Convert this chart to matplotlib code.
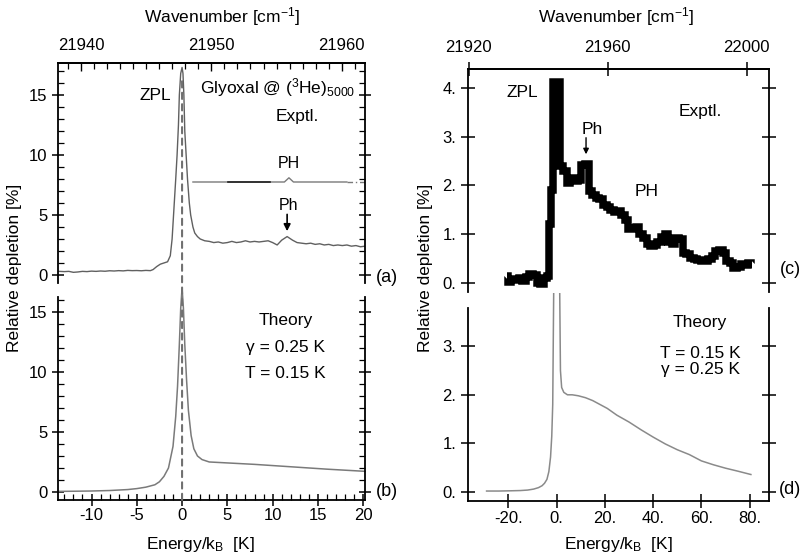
import numpy as np
import matplotlib
matplotlib.use("Agg")
import matplotlib.pyplot as plt
from matplotlib.ticker import MultipleLocator, FuncFormatter
from matplotlib.patches import ConnectionPatch, Rectangle

plt.rcParams['font.family'] = ['Liberation Sans', 'DejaVu Sans']
plt.rcParams['font.size'] = 12
plt.rcParams['mathtext.fontset'] = 'custom'
plt.rcParams['mathtext.rm'] = 'Liberation Sans'
plt.rcParams['mathtext.it'] = 'Liberation Sans:italic'
plt.rcParams['axes.unicode_minus'] = False

# ---------------- data ----------------
# (a) measured depletion spectrum, energy in K relative to the ZPL
a_E = [-13.6, -13.0, -12.5, -12.0, -11.5, -11.0, -10.5, -10.0, -9.5, -9.0, -8.5,
       -8.0, -7.5, -7.0, -6.5, -6.0, -5.5, -5.0, -4.5, -4.0, -3.5, -3.2, -2.8,
       -2.4, -2.0, -1.6, -1.3, -1.1, -0.9, -0.7, -0.55, -0.4, -0.3, -0.15, 0.0,
       0.1, 0.2, 0.3, 0.45, 0.6, 0.8, 0.95, 1.2, 1.4, 1.7, 2.0, 2.5, 3.0, 3.5,
       4.0, 4.5, 5.0, 5.5, 6.0, 6.5, 7.0, 7.5, 8.0, 8.5, 9.0, 9.5, 10.0, 10.5,
       11.0, 11.6, 12.2, 12.7, 13.2, 13.7, 14.2, 14.7, 15.2, 15.7, 16.2, 16.7,
       17.2, 17.7, 18.2, 18.7, 19.2, 19.7, 20.2]
a_val = [0.30, 0.28, 0.30, 0.22, 0.25, 0.30, 0.28, 0.32, 0.30, 0.33, 0.31,
         0.35, 0.33, 0.36, 0.34, 0.38, 0.36, 0.37, 0.35, 0.38, 0.36, 0.45, 0.70,
         0.90, 1.00, 1.10, 1.60, 3.0, 5.5, 8.0, 10.0, 12.5, 15.0, 16.8, 17.3,
         16.8, 15.0, 12.0, 10.0, 8.0, 6.0, 5.0, 4.0, 3.5, 3.2, 3.0, 2.85, 2.8, 2.7,
         2.75, 2.65, 2.7, 2.8, 2.7, 2.75, 2.85, 2.75, 2.8, 2.75, 2.8, 2.85, 2.7, 2.5,
         2.9, 3.2, 2.9, 2.7, 2.65, 2.6, 2.65, 2.55, 2.6, 2.5, 2.55, 2.45,
         2.5, 2.45, 2.5, 2.4, 2.45, 2.35, 2.4]

# (a) phonon-wing trace drawn above the spectrum
ph_E = [1.2, 11.3, 11.8, 12.3, 18.2]
ph_val = [7.75, 7.75, 8.1, 7.75, 7.75]
ph_dark_E = [5.1, 9.7]
ph_tail_E = [18.2, 20.4]
ph_level = 7.75

# (b) theory, gamma = 0.25 K, T = 0.15 K
b_E = [-13.7, -12, -10, -8, -6, -5, -4, -3, -2.5, -2, -1.5, -1.0, -0.7, -0.5,
       -0.3, -0.15, 0.0, 0.15, 0.3, 0.5, 0.7, 1.0, 1.3, 1.7, 2.2, 3.0, 5.0, 8.0,
       10.0, 13.0, 16.0, 20.2]
b_val = [0.05, 0.06, 0.08, 0.12, 0.2, 0.28, 0.4, 0.6, 0.85, 1.3, 2.0, 3.8, 6.3,
         8.8, 12.3, 15.3, 17.0, 15.3, 12.3, 9.3, 6.8, 4.7, 3.6, 3.0, 2.7, 2.5,
         2.42, 2.3, 2.2, 2.05, 1.9, 1.72]

# (c) measured spectrum, wide range
c_E = [-20.5, -19.5, -18.0, -16.5, -15.0, -13.5, -12.0, -10.5, -9.0, -7.5, -6.0,
       -4.5, -3.5, -2.7, -2.0, -1.0, 0.5, 2.0, 3.5, 5.0, 6.5, 8.0, 9.5, 11.0,
       12.5, 14.0, 15.5, 17.0, 18.5, 20.0, 21.5, 23.0, 24.5, 26.0, 27.5, 29.0,
       30.5, 32.0, 33.5, 35.0, 36.5, 38.0, 39.5, 41.0, 42.5, 44.0, 45.5, 47.0,
       48.5, 50.0, 51.5, 53.0, 54.5, 56.0, 57.5, 59.0, 60.5, 62.0, 63.5, 65.0,
       66.5, 68.0, 69.5, 71.0, 72.5, 74.0, 75.5, 77.0, 78.5, 80.0, 81.0]
c_val = [0.15, 0.02, 0.06, 0.08, 0.10, 0.05, 0.12, 0.18, 0.16, 0.00, -0.03,
         0.10, 0.14, 1.2, 1.9, 4.13, 4.13, 2.4, 2.3, 2.05, 2.15, 2.1, 2.12, 2.42,
         2.45, 1.88, 1.80, 1.75, 1.72, 1.60, 1.55, 1.50, 1.45, 1.48, 1.40, 1.30,
         1.10, 1.12, 1.15, 1.00, 0.92, 0.80, 0.75, 0.78, 0.85, 0.95, 1.00, 0.85,
         0.80, 0.92, 0.90, 0.62, 0.60, 0.52, 0.50, 0.48, 0.45, 0.46, 0.50, 0.55,
         0.65, 0.68, 0.62, 0.45, 0.40, 0.30, 0.32, 0.38, 0.36, 0.40, 0.38]

# (d) theory, wide range (ZPL runs far off scale)
d_E = [-29, -24, -19, -15, -12, -9.5, -7.5, -6, -5, -4, -3.2, -2.5, -2.0, -1.6,
       -1.2, 0.0, 1.3, 1.6, 2.1, 3.0, 4.5, 6.5, 9, 12, 15, 18, 21, 25, 30, 35,
       40, 45, 50, 55, 60, 65, 70, 75, 80.5]
d_val = [0.02, 0.02, 0.025, 0.03, 0.04, 0.06, 0.09, 0.13, 0.18, 0.26, 0.42,
         0.72, 1.15, 1.8, 4.1, 30.0, 4.1, 2.5, 2.15, 2.05, 2.0, 2.0, 1.98, 1.94,
         1.88, 1.8, 1.72, 1.58, 1.44, 1.28, 1.13, 0.99, 0.87, 0.77, 0.64, 0.56,
         0.49, 0.43, 0.36]

left_wn_ticks = [21940, 21950, 21960]
right_wn_ticks = [21920, 21960, 22000]
K_PER_CM = 1.4388
ZPL_WN_LEFT = 21947.75
ZPL_WN_RIGHT = 21945.3

# ---------------- figure ----------------
W, H = 806, 554
fig = plt.figure(figsize=(W / 100, H / 100), dpi=100)


def box(x0, y0, x1, y1):
    return [x0 / W, 1 - y1 / H, (x1 - x0) / W, (y1 - y0) / H]


ax_a = fig.add_axes(box(58, 63, 365, 283))
ax_b = fig.add_axes(box(58, 297, 365, 500))
ax_c = fig.add_axes(box(468, 69, 769, 292))
ax_d = fig.add_axes(box(468, 308, 769, 501))

GRAY = '#606060'
LGRAY = '#7a7a7a'

for ax in (ax_a, ax_b, ax_c, ax_d):
    for s in ax.spines.values():
        s.set_linewidth(1.3)
ax_a.spines['bottom'].set_visible(False)
ax_c.spines['bottom'].set_visible(False)
ax_b.spines['top'].set_visible(False)
ax_d.spines['top'].set_visible(False)

# ---- (a) ----
ax_a.plot(a_E, a_val, color=GRAY, lw=1.0)
ax_a.plot(ph_E, ph_val, color=LGRAY, lw=1.0)
ax_a.plot(ph_dark_E, [ph_level] * 2, color='#202020', lw=1.2)
ax_a.plot(ph_tail_E, [ph_level] * 2, color=LGRAY, lw=1.0, ls=(0, (4, 2, 1, 2)))
ax_a.set_xlim(-13.7, 20.2)
ax_a.set_ylim(-0.67, 17.67)
ax_a.text(-3.0, 15.0, 'ZPL', ha='center', va='center', fontsize=12.5)
ax_a.text(10.6, 15.6, 'Glyoxal @ ($^{3}$He)$_{5000}$', ha='center', va='center',
          fontsize=12.5)
ax_a.text(12.7, 13.2, 'Exptl.', ha='center', va='center', fontsize=12.5)
ax_a.text(11.8, 9.3, 'PH', ha='center', va='center', fontsize=11.5)
ax_a.text(11.8, 5.8, 'Ph', ha='center', va='center', fontsize=11.5)
ax_a.annotate('', xy=(11.6, 3.65), xytext=(11.6, 5.05),
              arrowprops=dict(arrowstyle='-|>', color='black', lw=1.2,
                              mutation_scale=10, shrinkA=0, shrinkB=0))

# ---- (b) ----
ax_b.plot(b_E, b_val, color=LGRAY, lw=1.1, clip_on=False)
ax_b.set_xlim(-13.7, 20.2)
ax_b.set_ylim(-0.67, 16.25)
ax_b.text(11.4, 14.3, 'Theory', ha='center', va='center', fontsize=12.5)
ax_b.text(11.4, 12.0, 'γ = 0.25 K', ha='center', va='center', fontsize=12.5)
ax_b.text(11.4, 9.9, 'T = 0.15 K', ha='center', va='center', fontsize=12.5)

for ax in (ax_a, ax_b):
    ax.yaxis.set_major_locator(MultipleLocator(5))
    ax.yaxis.set_minor_locator(MultipleLocator(1))
    ax.tick_params(axis='y', which='major', direction='inout', length=8,
                   width=1.1, right=True, labelsize=12)
    ax.tick_params(axis='y', which='minor', direction='in', length=4,
                   width=0.9, right=True)
ax_a.tick_params(axis='x', which='both', bottom=False, labelbottom=False)
ax_b.xaxis.set_major_locator(MultipleLocator(5))
ax_b.xaxis.set_minor_locator(MultipleLocator(1))
ax_b.tick_params(axis='x', which='major', direction='inout', length=8,
                 width=1.1, top=False, labelsize=12, pad=2)
ax_b.tick_params(axis='x', which='minor', direction='in', length=4,
                 width=0.9, top=False)

# shared dashed marker at the ZPL through both panels
con = ConnectionPatch(xyA=(0, -0.67), coordsA=ax_b.transData,
                      xyB=(0, 16.3), coordsB=ax_a.transData,
                      arrowstyle='-', linestyle=(0, (3, 2.5)),
                      color='#707070', lw=1.5)
fig.add_artist(con)

# top wavenumber axis, left
sec_a = ax_a.secondary_xaxis(
    'top',
    functions=(lambda e: ZPL_WN_LEFT + e / K_PER_CM,
               lambda w: (w - ZPL_WN_LEFT) * K_PER_CM))
sec_a.set_xticks(left_wn_ticks)
sec_a.xaxis.set_minor_locator(MultipleLocator(1))
sec_a.tick_params(which='major', direction='in', length=6, width=1.0,
                  labelsize=12, pad=7)
sec_a.tick_params(which='minor', direction='in', length=4, width=0.9)
sec_a.spines['top'].set_linewidth(1.3)

# ---- (c) ----
ax_c.plot(c_E, c_val, color='black', lw=5.4, drawstyle='steps-mid',
          solid_joinstyle='miter', solid_capstyle='butt')
ax_c.set_xlim(-36.7, 88)
ax_c.set_ylim(-0.185, 4.39)
ax_c.text(-14.3, 3.9, 'ZPL', ha='center', va='center', fontsize=12.5)
ax_c.text(59.5, 3.51, 'Exptl.', ha='center', va='center', fontsize=12.5)
ax_c.text(14.7, 3.14, 'Ph', ha='center', va='center', fontsize=12.5)
ax_c.text(37.5, 1.87, 'PH', ha='center', va='center', fontsize=12.5)
ax_c.annotate('', xy=(12.2, 2.64), xytext=(12.2, 2.98),
              arrowprops=dict(arrowstyle='-|>', color='black', lw=1.0,
                              mutation_scale=8, shrinkA=0, shrinkB=0))

# ---- (d) ----
d_clip = Rectangle((-36.7, -0.185), 124.7, 4.1 + 0.185,
                   transform=ax_d.transData)
line_d, = ax_d.plot(d_E, d_val, color='#8a8a8a', lw=1.1)
line_d.set_clip_path(d_clip)
ax_d.set_xlim(-36.7, 88)
ax_d.set_ylim(-0.185, 3.786)
ax_d.text(59.5, 3.48, 'Theory', ha='center', va='center', fontsize=12.5)
ax_d.text(59.5, 2.84, 'T = 0.15 K', ha='center', va='center', fontsize=12.5)
ax_d.text(59.5, 2.52, 'γ = 0.25 K', ha='center', va='center', fontsize=12.5)

dot_fmt = FuncFormatter(lambda v, p: f'{v:.0f}.')
for ax in (ax_c, ax_d):
    ax.yaxis.set_major_locator(MultipleLocator(1))
    ax.yaxis.set_major_formatter(dot_fmt)
    ax.tick_params(axis='y', which='major', direction='inout', length=10,
                   width=1.1, right=True, labelsize=12)
ax_c.tick_params(axis='x', which='both', bottom=False, labelbottom=False)
ax_d.xaxis.set_major_locator(MultipleLocator(20))
ax_d.xaxis.set_major_formatter(dot_fmt)
ax_d.tick_params(axis='x', which='major', direction='inout', length=10,
                 width=1.1, top=False, labelsize=12, pad=2)

sec_c = ax_c.secondary_xaxis(
    'top',
    functions=(lambda e: ZPL_WN_RIGHT + e / K_PER_CM,
               lambda w: (w - ZPL_WN_RIGHT) * K_PER_CM))
sec_c.set_xticks(right_wn_ticks)
sec_c.tick_params(which='major', direction='inout', length=10, width=1.1,
                  labelsize=12, pad=5)
sec_c.spines['top'].set_linewidth(1.3)

# ---- shared labels ----
fig.text(222 / W, 1 - 17 / H, 'Wavenumber [cm$^{-1}$]', ha='center',
         va='center', fontsize=12.5)
fig.text(616 / W, 1 - 17 / H, 'Wavenumber [cm$^{-1}$]', ha='center',
         va='center', fontsize=12.5)
fig.text(200 / W, 1 - 545 / H, 'Energy/k$_{\\rm B}$  [K]', ha='center',
         va='center', fontsize=12.5)
fig.text(618 / W, 1 - 545 / H, 'Energy/k$_{\\rm B}$  [K]', ha='center',
         va='center', fontsize=12.5)
fig.text(15 / W, 1 - 268 / H, 'Relative depletion [%]', rotation=90,
         ha='center', va='center', fontsize=12.5)
fig.text(425 / W, 1 - 268 / H, 'Relative depletion [%]', rotation=90,
         ha='center', va='center', fontsize=12.5)

fig.text(387 / W, 1 - 277 / H, '(a)', ha='center', va='center', fontsize=13)
fig.text(387 / W, 1 - 492 / H, '(b)', ha='center', va='center', fontsize=13)
fig.text(790 / W, 1 - 270 / H, '(c)', ha='center', va='center', fontsize=13)
fig.text(790 / W, 1 - 490 / H, '(d)', ha='center', va='center', fontsize=13)

fig.savefig('out.png', dpi=100)
